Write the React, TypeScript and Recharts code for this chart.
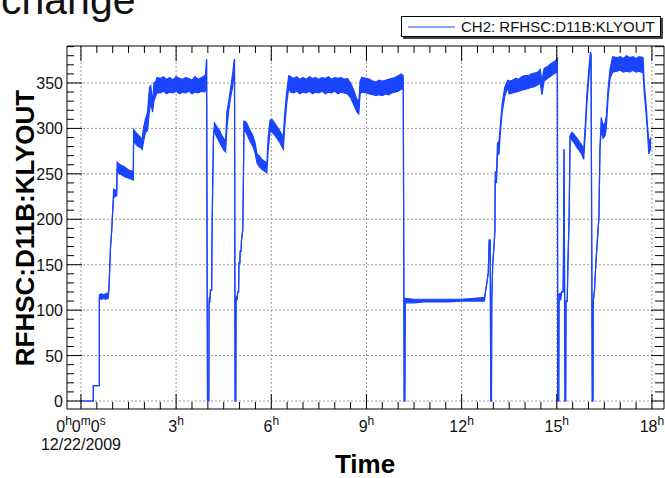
import { Area, CartesianGrid, ComposedChart, XAxis, YAxis } from "recharts";

const WIDTH = 665;
const HEIGHT = 478;
const BLUE = "#1a45ff";
const FONT = "'Liberation Sans', Arial, sans-serif";

// [hour, low, high] — the trace is a noisy band, low/high are its edges
type Pt = [number, number, number];

const rampUp: Pt[] = [
  [0, 0, 0], [0.39, 0, 0], [0.39, 17, 17], [0.58, 17, 17], [0.58, 113, 117],
  [0.64, 112, 118], [0.71, 113, 117], [0.78, 112, 118], [0.86, 113, 119],
  [0.88, 122, 122], [0.9, 139, 139], [0.93, 168, 168], [0.97, 188, 188],
  [0.99, 202, 202], [1.03, 224, 233], [1.08, 225, 232], [1.13, 226, 233],
  [1.14, 256, 263], [1.2, 250, 261], [1.28, 249, 259], [1.36, 247, 258],
  [1.44, 246, 256], [1.52, 245, 254], [1.6, 244, 253], [1.65, 243, 252],
  [1.66, 287, 299], [1.72, 283, 296], [1.8, 280, 293], [1.88, 279, 290],
  [1.93, 277, 288], [1.97, 285, 300], [2.03, 295, 310], [2.1, 298, 318],
  [2.16, 320, 345], [2.2, 327, 347], [2.26, 318, 328], [2.3, 330, 350],
  [2.36, 336, 352],
];

const firstPlateau: Pt[] = [
  [2.4, 339, 356], [2.5, 339, 355], [2.6, 341, 357], [2.7, 338, 354],
  [2.8, 340, 356], [2.9, 339, 353], [3.0, 341, 357], [3.1, 338, 355],
  [3.2, 340, 354], [3.3, 339, 356], [3.4, 341, 355], [3.5, 338, 353],
  [3.6, 340, 357], [3.7, 339, 354], [3.8, 341, 356], [3.9, 340, 358],
  [3.93, 342, 360], [3.96, 376, 376], [3.99, 0, 0],
];

const firstTrips: Pt[] = [
  [4.03, 0, 0], [4.04, 109, 113], [4.07, 109, 115], [4.08, 122, 122],
  [4.12, 122, 122], [4.13, 174, 174], [4.15, 231, 231], [4.18, 294, 294],
  [4.21, 296, 306], [4.26, 292, 303], [4.32, 288, 300], [4.38, 284, 297],
  [4.44, 280, 292], [4.5, 276, 289], [4.56, 274, 286], [4.6, 300, 318],
  [4.66, 320, 330], [4.72, 335, 345], [4.78, 345, 360], [4.82, 360, 372],
  [4.84, 376, 376], [4.86, 0, 0], [4.88, 0, 0], [4.89, 110, 114],
  [4.93, 112, 116], [4.94, 120, 120], [4.97, 120, 120], [4.98, 152, 152],
  [5.01, 152, 152], [5.02, 165, 165], [5.05, 165, 165], [5.06, 177, 177],
  [5.1, 188, 188], [5.12, 240, 240], [5.14, 308, 308], [5.17, 298, 308],
  [5.24, 293, 305], [5.3, 288, 300], [5.36, 284, 296], [5.42, 280, 292],
  [5.49, 273, 284], [5.55, 262, 272], [5.62, 258, 270], [5.7, 255, 266],
  [5.78, 253, 264], [5.86, 251, 262], [5.9, 275, 290], [5.96, 297, 309],
  [6.02, 296, 310], [6.1, 293, 306], [6.18, 289, 302], [6.26, 285, 298],
  [6.32, 281, 294], [6.38, 277, 292], [6.42, 300, 315], [6.48, 325, 338],
  [6.55, 345, 358],
];

const secondPlateau: Pt[] = [
  [6.6, 340, 357], [6.7, 339, 355], [6.8, 341, 357], [6.9, 338, 354],
  [7.0, 340, 356], [7.1, 339, 354], [7.2, 341, 357], [7.3, 338, 355],
  [7.4, 340, 356], [7.5, 339, 354], [7.6, 341, 356], [7.7, 338, 355],
  [7.8, 340, 357], [7.9, 339, 354], [8.0, 341, 356], [8.1, 338, 355],
  [8.2, 340, 356], [8.3, 339, 354], [8.4, 338, 355], [8.5, 334, 350],
  [8.6, 326, 342], [8.7, 318, 332], [8.76, 316, 330], [8.8, 338, 352],
  [8.85, 340, 356], [9.0, 339, 355], [9.1, 338, 354], [9.2, 337, 352],
  [9.3, 336, 351], [9.4, 337, 353], [9.5, 336, 352], [9.6, 338, 353],
  [9.7, 337, 354], [9.8, 339, 355], [9.9, 340, 356], [10.0, 341, 358],
  [10.1, 343, 360], [10.16, 345, 358], [10.19, 0, 0],
];

const standby: Pt[] = [
  [10.21, 0, 0], [10.22, 108, 113], [10.5, 108, 112], [10.8, 109, 112],
  [11.2, 109, 112], [11.6, 109, 112], [12.0, 110, 112], [12.4, 110, 113],
  [12.72, 110, 114], [12.76, 122, 122], [12.8, 131, 131], [12.84, 141, 141],
  [12.87, 177, 177], [12.9, 177, 177], [12.92, 0, 0], [12.94, 0, 0],
];

const secondRamp: Pt[] = [
  [12.95, 108, 112], [12.98, 150, 150], [13.02, 170, 170], [13.05, 188, 188],
  [13.06, 243, 252], [13.1, 240, 251], [13.13, 270, 284], [13.18, 272, 286],
  [13.22, 295, 303], [13.28, 318, 328], [13.36, 335, 345], [13.45, 345, 353],
  [13.5, 338, 352], [13.6, 339, 353], [13.7, 340, 355], [13.8, 341, 354],
  [13.9, 342, 357], [14.0, 343, 358], [14.1, 344, 358], [14.2, 345, 360],
  [14.3, 346, 361], [14.4, 348, 362], [14.48, 350, 365], [14.53, 337, 352],
  [14.6, 352, 366], [14.7, 355, 368], [14.8, 357, 371], [14.9, 360, 373],
  [15.0, 362, 376], [15.02, 368, 378], [15.03, 0, 0],
];

const lateTrips: Pt[] = [
  [15.06, 0, 0], [15.07, 110, 118], [15.13, 112, 118], [15.15, 120, 120],
  [15.2, 120, 120], [15.21, 150, 150], [15.23, 277, 277], [15.26, 0, 0],
  [15.28, 0, 0], [15.29, 110, 110], [15.33, 110, 110], [15.35, 150, 150],
  [15.39, 203, 203], [15.42, 292, 292], [15.48, 287, 296], [15.55, 284, 293],
  [15.62, 280, 290], [15.7, 276, 286], [15.78, 272, 282], [15.85, 266, 277],
  [15.9, 295, 305], [15.95, 328, 338], [16.01, 355, 365], [16.06, 376, 384],
  [16.08, 382, 382], [16.12, 0, 0], [16.14, 0, 0], [16.15, 110, 110],
  [16.19, 122, 122], [16.23, 150, 150], [16.3, 188, 188], [16.33, 203, 203],
  [16.36, 277, 277], [16.4, 298, 312], [16.46, 289, 303], [16.52, 292, 306],
  [16.56, 300, 313], [16.62, 335, 345], [16.68, 355, 365],
];

const lastPlateau: Pt[] = [
  [16.76, 362, 379], [16.9, 363, 378], [17.0, 364, 379], [17.1, 362, 377],
  [17.2, 363, 380], [17.3, 362, 378], [17.4, 364, 379], [17.5, 362, 377],
  [17.6, 363, 379], [17.72, 361, 378], [17.76, 338, 348], [17.82, 315, 325],
  [17.86, 295, 303], [17.9, 272, 286], [17.94, 276, 288], [17.97, 278, 290],
];

const xTicks = Array.from({ length: 37 }, (_, i) => i * 0.5);
const yTicks = Array.from({ length: 40 }, (_, i) => i * 10);
const xGrid = [0, 3, 6, 9, 12, 15, 18];
const yGrid = [0, 50, 100, 150, 200, 250, 300, 350];

const data = [
  ...rampUp,
  ...firstPlateau,
  ...firstTrips,
  ...secondPlateau,
  ...standby,
  ...secondRamp,
  ...lateTrips,
  ...lastPlateau,
].map(([t, lo, hi]) => ({ t, band: [lo, hi] }));

function hourLabel(v: number) {
  const sup = { fontSize: 12 };
  if (v === 0) {
    return (
      <>
        <tspan>0</tspan>
        <tspan dy={-7} {...sup}>h</tspan>
        <tspan dy={7}>0</tspan>
        <tspan dy={-7} {...sup}>m</tspan>
        <tspan dy={7}>0</tspan>
        <tspan dy={-7} {...sup}>s</tspan>
      </>
    );
  }
  return (
    <>
      <tspan>{v}</tspan>
      <tspan dy={-7} {...sup}>h</tspan>
    </>
  );
}

const BottomTick = (props: any) => {
  const { x, y, payload } = props;
  const v = payload.value;
  const major = v % 3 === 0;
  return (
    <g>
      <line x1={x} x2={x} y1={y} y2={y - (major ? 15 : 7)} stroke="#000" />
      {major && (
        <text x={x} y={y + 23} textAnchor="middle" fontSize={16} fill="#111" fontFamily={FONT}>
          {hourLabel(v)}
        </text>
      )}
      {v === 0 && (
        <text x={x} y={y + 41} textAnchor="middle" fontSize={16} fill="#111" fontFamily={FONT}>
          12/22/2009
        </text>
      )}
    </g>
  );
};

const TopTick = (props: any) => {
  const { x, y, payload } = props;
  const major = payload.value % 3 === 0;
  return <line x1={x} x2={x} y1={y} y2={y + (major ? 15 : 7)} stroke="#000" />;
};

const LeftTick = (props: any) => {
  const { x, y, payload } = props;
  const v = payload.value;
  const major = v % 50 === 0;
  return (
    <g>
      <line x1={x} x2={x + (major ? 15 : 7)} y1={y} y2={y} stroke="#000" />
      {major && (
        <text x={x - 4} y={y + 6} textAnchor="end" fontSize={16} fill="#111" fontFamily={FONT}>
          {v}
        </text>
      )}
    </g>
  );
};

const RightTick = (props: any) => {
  const { x, y, payload } = props;
  const major = payload.value % 50 === 0;
  return <line x1={x} x2={x - (major ? 13 : 9)} y1={y} y2={y} stroke="#000" />;
};

export default function App() {
  return (
    <div style={{ position: "absolute", left: 0, top: 0, width: WIDTH, height: HEIGHT, background: "#fff" }}>
      <ComposedChart
        width={WIDTH}
        height={HEIGHT}
        data={data}
        margin={{ top: 45, right: 0, bottom: 49, left: 47 }}
      >
        <CartesianGrid
          stroke="#9a9a9a"
          strokeDasharray="2 2"
          horizontalValues={yGrid}
          verticalValues={xGrid}
        />
        <XAxis
          dataKey="t"
          type="number"
          domain={[-0.44, 18.38]}
          allowDataOverflow
          ticks={xTicks}
          interval={0}
          height={20}
          tickSize={0}
          tickMargin={0}
          axisLine={{ stroke: "#000" }}
          tickLine={false}
          tick={<BottomTick />}
        />
        <XAxis
          xAxisId="top"
          orientation="top"
          dataKey="t"
          type="number"
          domain={[-0.44, 18.38]}
          allowDataOverflow
          ticks={xTicks}
          interval={0}
          height={1}
          tickSize={0}
          tickMargin={0}
          axisLine={{ stroke: "#000" }}
          tickLine={false}
          tick={<TopTick />}
        />
        <YAxis
          type="number"
          domain={[-8.8, 390.7]}
          allowDataOverflow
          ticks={yTicks}
          interval={0}
          width={20}
          tickSize={0}
          tickMargin={0}
          axisLine={{ stroke: "#000" }}
          tickLine={false}
          tick={<LeftTick />}
        />
        <YAxis
          yAxisId="right"
          orientation="right"
          type="number"
          domain={[-8.8, 390.7]}
          allowDataOverflow
          ticks={yTicks}
          interval={0}
          width={1}
          tickSize={0}
          tickMargin={0}
          axisLine={{ stroke: "#000" }}
          tickLine={false}
          tick={<RightTick />}
        />
        <Area
          type="linear"
          dataKey="band"
          stroke={BLUE}
          strokeWidth={1.2}
          fill={BLUE}
          fillOpacity={1}
          dot={false}
          activeDot={false}
          isAnimationActive={false}
        />
      </ComposedChart>
      <svg
        width={WIDTH}
        height={HEIGHT}
        style={{ position: "absolute", left: 0, top: 0, pointerEvents: "none" }}
      >
        <text x={1} y={14} fontSize={41} fontFamily={FONT} fill="#111">
          change
        </text>
        <rect x={403} y={18} width={260} height={21} fill="#444" />
        <rect x={401.5} y={16.5} width={259} height={20} fill="#fff" stroke="#000" />
        <line x1={408} x2={455} y1={27} y2={27} stroke={BLUE} strokeWidth={1.2} />
        <text x={461} y={32} fontSize={15} fontFamily={FONT} fill="#111">
          CH2: RFHSC:D11B:KLYOUT
        </text>
        <text
          x={365}
          y={473}
          textAnchor="middle"
          fontSize={26}
          fontWeight="bold"
          fontFamily={FONT}
          fill="#000"
        >
          Time
        </text>
        <text
          transform="translate(34 228) rotate(-90)"
          textAnchor="middle"
          fontSize={26}
          fontWeight="bold"
          fontFamily={FONT}
          fill="#000"
        >
          RFHSC:D11B:KLYOUT
        </text>
      </svg>
    </div>
  );
}
